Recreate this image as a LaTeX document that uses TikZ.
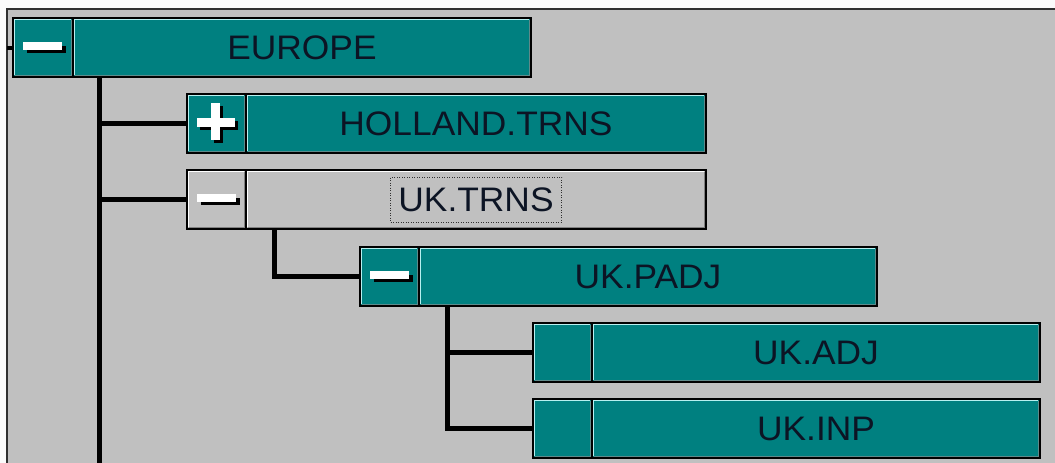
\documentclass[tikz,border=0pt]{standalone}
\usepackage{fontspec}
\setmainfont[FakeStretch=1.04]{Liberation Sans}
\definecolor{wteal}{HTML}{008080}
\definecolor{wteallight}{HTML}{B8F0F0}
\definecolor{wtealdark}{HTML}{5E8A8A}
\definecolor{wgrey}{HTML}{C0C0C0}
\definecolor{wgreydark}{HTML}{808080}
\definecolor{wtext}{HTML}{0C1424}
\definecolor{wframe}{HTML}{303030}
\newcommand\tvminus[1]{%
  \begin{scope}[shift={(#1.center)}]
    \fill[black] (-16,-2) rectangle (23,5);
    \fill[white] (-20,-6) rectangle (19,2);
  \end{scope}}
\newcommand\tvplus[1]{%
  \begin{scope}[shift={(#1.center)}]
    \fill[black] (-16.5,-2.5) rectangle (21.5,6.5);
    \fill[black] (-2.5,-17.5) rectangle (6.5,19.5);
    \fill[white] (-19.5,-5.5) rectangle (18.5,3.5);
    \fill[white] (-5.5,-20.5) rectangle (3.5,16.5);
  \end{scope}}
\begin{document}
\begin{tikzpicture}[x=1pt,y=-1pt,
  tvbox/.style={draw=black, line width=1.5pt, minimum height=59pt, anchor=north west,
    inner sep=0pt, outer sep=0pt, font=\fontsize{34}{40}\selectfont, text=wtext},
  tealbox/.style={tvbox, fill=wteal},
  greybox/.style={tvbox, fill=wgrey},
  link/.style={line width=5pt, draw=black},
  focusrect/.style={draw=wframe, line width=1pt, dash pattern=on 1pt off 1.5pt,
    minimum width=171pt, minimum height=45pt, inner sep=0pt,
    font=\fontsize{34}{40}\selectfont, text=wtext}]
\useasboundingbox (0,0) rectangle (1055,463);
% background window
\fill[white!97!gray] (0,0) rectangle (1055,463);
\fill[wgrey] (7,9) rectangle (1055,463);
\draw[wframe, line width=2pt] (7,463) -- (7,9) -- (1055,9);
% rows
\node[tealbox, minimum width=60pt]  (b1) at (13,18) {};
\node[tealbox, minimum width=458pt] (m1) at (73,18) {EUROPE};
\node[tealbox, minimum width=59pt]  (b2) at (187,94) {};
\node[tealbox, minimum width=460pt] (m2) at (246,94) {HOLLAND.TRNS};
\node[greybox, minimum width=59pt]  (b3) at (187,170) {};
\node[greybox, minimum width=460pt] (m3) at (246,170) {};
\node[tealbox, minimum width=59pt]  (b4) at (360,247) {};
\node[tealbox, minimum width=458pt] (m4) at (419,247) {UK.PADJ};
\node[tealbox, minimum width=59pt]  (b5) at (533,323) {};
\node[tealbox, minimum width=448pt] (m5) at (592,323) {UK.ADJ};
\node[tealbox, minimum width=59pt]  (b6) at (533,399) {};
\node[tealbox, minimum width=448pt] (m6) at (592,399) {UK.INP};
% bevels
\foreach \n in {b1,m1,b2,m2,b4,m4,b5,m5,b6,m6}{
  \draw[wtealdark, line width=1.6pt] ([shift={(1.6pt,1.6pt)}]\n.south west) -| ([shift={(-1.6pt,-1.6pt)}]\n.north east);
  \draw[wteallight, line width=1.6pt] ([shift={(1.6pt,1.6pt)}]\n.south west) |- ([shift={(-1.6pt,-1.6pt)}]\n.north east);
}
\foreach \n in {b3,m3}{
  \draw[wgreydark, line width=1.6pt] ([shift={(1.6pt,1.6pt)}]\n.south west) -| ([shift={(-1.6pt,-1.6pt)}]\n.north east);
  \draw[white, line width=1.6pt] ([shift={(1.6pt,1.6pt)}]\n.south west) |- ([shift={(-1.6pt,-1.6pt)}]\n.north east);
}
% focused label
\node[focusrect] (t3) at (m3.center) {UK.TRNS};
% glyphs
\tvminus{b1}
\tvplus{b2}
\tvminus{b3}
\tvminus{b4}
% connectors
\coordinate (s0) at (7,47.5);
\coordinate (e1) at (99,463);
\coordinate (j1) at ([xshift=26pt]m1.south west);
\coordinate (j3) at ([xshift=28pt]m3.south west);
\coordinate (j4) at ([xshift=28pt]m4.south west);
\draw[link, line width=4pt] (s0) -- (b1.west);
\draw[link] (j1) -- (e1);
\draw[link] (b2.west -| j1) -- (b2.west);
\draw[link] (b3.west -| j1) -- (b3.west);
\draw[link] (j3) |- (b4.west);
\draw[link] (j4) |- (b6.west);
\draw[link] (b5.west -| j4) -- (b5.west);
\end{tikzpicture}
\end{document}
